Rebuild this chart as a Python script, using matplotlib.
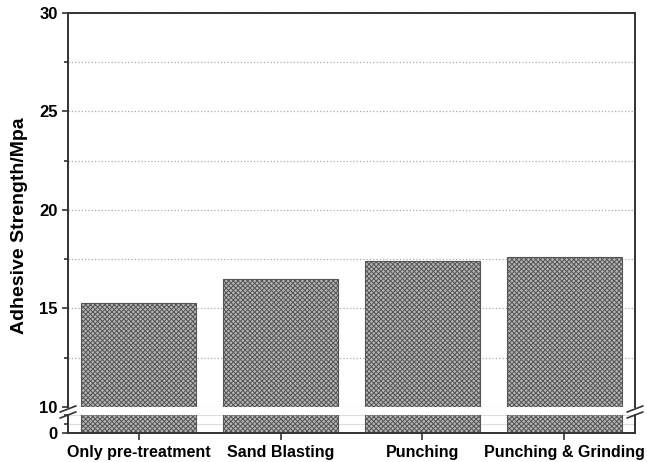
import numpy as np
import matplotlib.pyplot as plt
from matplotlib.ticker import MultipleLocator

categories = ["Only pre-treatment", "Sand Blasting", "Punching", "Punching & Grinding"]
strength = [15.3, 16.5, 17.4, 17.6]

plt.rcParams['font.family'] = ['Liberation Sans', 'DejaVu Sans']
plt.rcParams['font.weight'] = 'bold'
plt.rcParams['hatch.color'] = '#5a5a5a'
plt.rcParams['hatch.linewidth'] = 0.7

fig = plt.figure(figsize=(6.47, 4.62), dpi=100)
left, right = 68 / 647, 635 / 647
ax_top = fig.add_axes([left, 1 - 407 / 462, right - left, (407 - 13) / 462])
ax_bot = fig.add_axes([left, 1 - 433 / 462, right - left, (433 - 415) / 462])

x = np.arange(len(categories))
spine_c = '#333333'

for ax in (ax_top, ax_bot):
    ax.bar(x, strength, width=0.81, color='#b5b5b5', edgecolor='#555555',
           hatch='xxxxxxx', linewidth=0.8, zorder=2)
    ax.set_xlim(-0.5, 3.5)
    for s in ax.spines.values():
        s.set_color(spine_c)
        s.set_linewidth(1.4)
    ax.tick_params(axis='both', which='both', direction='out', color=spine_c, width=1.2)
    ax.tick_params(axis='y', which='major', length=4, labelsize=12)
    ax.tick_params(axis='y', which='minor', length=3)

ax_top.set_ylim(10, 30)
ax_top.yaxis.set_major_locator(MultipleLocator(5))
ax_top.yaxis.set_minor_locator(MultipleLocator(2.5))
ax_top.grid(axis='y', which='both', linestyle=':', color='#aaaaaa', linewidth=0.9, zorder=0)
ax_top.spines['bottom'].set_visible(False)
ax_top.tick_params(axis='x', which='both', bottom=False, labelbottom=False)
ax_top.set_ylabel("Adhesive Strength/Mpa", fontsize=14, fontweight='bold')
ax_top.yaxis.set_label_coords(-0.07, 0.46)

ax_bot.set_ylim(0, 1)
ax_bot.set_yticks([0])
ax_bot.yaxis.set_minor_locator(MultipleLocator(0.5))
ax_bot.grid(axis='y', which='minor', linestyle='-', color='#dddddd', linewidth=0.8, zorder=0)
ax_bot.spines['top'].set_visible(False)
ax_bot.set_xticks(x)
ax_bot.set_xticklabels(categories, fontsize=11.5, fontweight='bold')
ax_bot.tick_params(axis='x', length=5)

# break marks on both sides
for xf in (0, 1):
    xpix = left + xf * (right - left)
    for yp in (409, 415):
        fig.add_artist(plt.Line2D([xpix - 0.012, xpix + 0.012],
                                  [1 - (yp + 3) / 462, 1 - (yp - 3) / 462],
                                  color=spine_c, linewidth=1.2))

fig.savefig('out.png', dpi=100)
